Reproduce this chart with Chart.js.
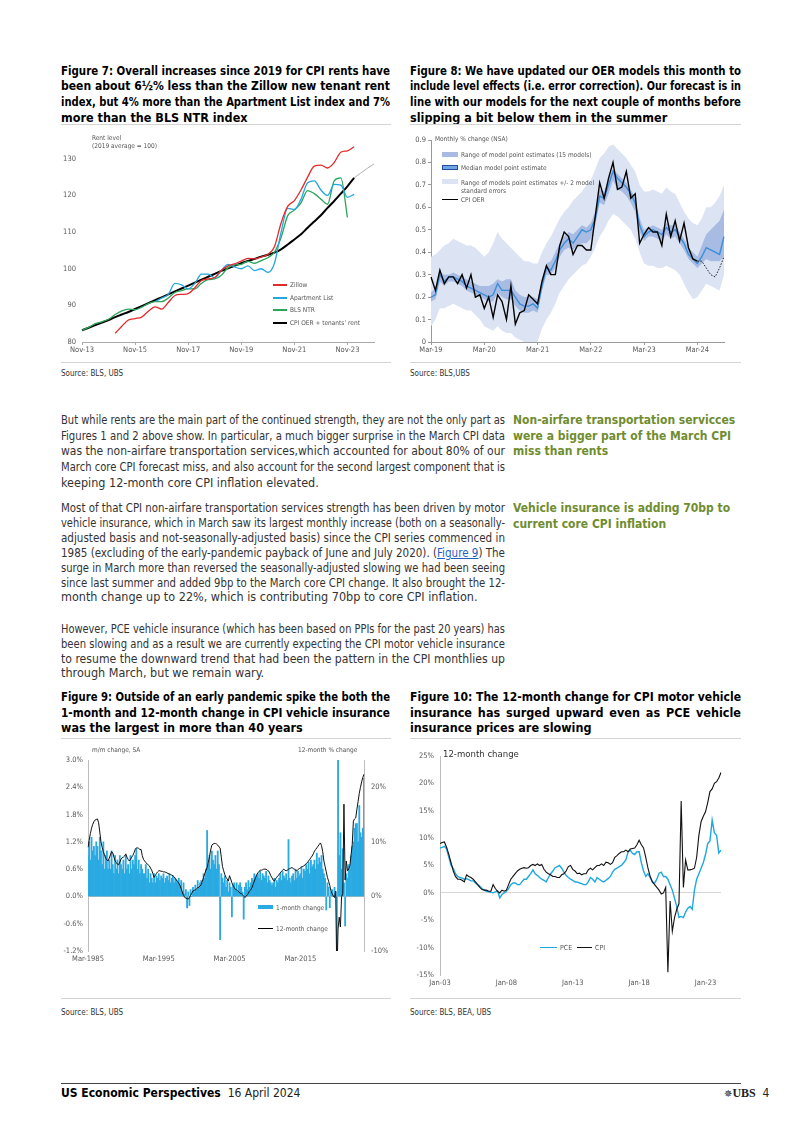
<!DOCTYPE html>
<html>
<head>
<meta charset="utf-8">
<title>US Economic Perspectives - page 4</title>
<script src="https://cdn.jsdelivr.net/npm/chart.js@4.4.1/dist/chart.umd.min.js"></script>
<style>
  html, body { margin: 0; padding: 0; background: #fff; }
  #page { position: relative; width: 802px; height: 1134px; overflow: hidden; color: #333;
          font-family: "Liberation Sans Narrow", "DejaVu Sans Condensed", "Roboto Condensed", Roboto, sans-serif; }
  .ln { position: absolute; height: 16px; line-height: 16px; font-size: 12.5px; white-space: nowrap; }
  .ln span { display: inline-block; transform-origin: 0 50%; }
  .ln.fit { white-space: normal; text-align: justify; text-align-last: justify; }
  .tt { font-weight: bold; color: #000; }
  .side { font-weight: bold; color: #6f8d2f; font-size: 12px; }
  .ln a { color: #1f5fbf; text-decoration: underline; }
  .rule { position: absolute; height: 1px; background: #d4d4d4; }
  .src { position: absolute; font-size: 8px; color: #333; line-height: 10px; }
  .lg { position: absolute; font-size: 6.5px; color: #555; white-space: nowrap; line-height: 8px; }
  .sw { position: absolute; }
  canvas { position: absolute; }
</style>
</head>
<body>
<div id="page">
  <canvas id="c7" width="330" height="228" style="left:61px;top:130px;"></canvas>
  <canvas id="c8" width="335" height="228" style="left:410px;top:130px;"></canvas>
  <canvas id="c9" width="330" height="222" style="left:61px;top:745px;"></canvas>
  <canvas id="c10" width="335" height="246" style="left:410px;top:745px;"></canvas>
</div>
<script>
//----- data -----

//figure 7: quarterly rent levels (2019 average = 100), Nov-13 onwards
var rentTicks = ['Nov-13', 'Nov-15', 'Nov-17', 'Nov-19', 'Nov-21', 'Nov-23'];
var zillow = [null, null, null, null, null,
  82.4, 84.3, 86.0, 86.4, 86.8, 88.4, 89.6, 89.0, 90.8, 92.7, 93.0, 93.2, 94.8, 96.8, 97.2,
  97.6, 99.6, 100.8, 101.3, 102.1, 102.8, 102.7, 103.2, 103.9, 106.0, 112.5, 117.0, 118.6,
  121.5, 125.0, 128.0, 128.3, 127.5, 129.0, 131.8, 132.2, 133.3, null, null, null];
var apartmentList = [null, null, null, null, null, null, null, null, null, null, null,
  91.0, 92.0, 93.0, 96.0, 95.6, 94.5, 96.0, 98.5, 98.5, 97.5, 99.5, 101.2, 100.5, 100.0,
  100.8, 99.5, 100.0, 99.0, 101.5, 110.0, 116.5, 116.2, 119.0, 123.5, 124.0, 121.5, 120.0,
  123.0, 122.8, 119.5, 120.3, null, null, null];
var blsNtr = [83.2, 84.0, 85.0, 85.5, 86.2, 87.5, 88.5, 89.0, 88.8, 89.5, 90.5, 91.0, 91.0,
  92.0, 93.5, 94.0, 94.5, 94.5, 96.0, 97.0, 97.2, 98.2, 100.3, 101.0, 101.2, 102.0, 101.5,
  102.2, 103.0, 104.5, 108.5, 114.5, 116.0, 118.0, 121.3, 120.5, 119.0, 117.6, 124.0, 124.8,
  114.0, null, null, null, null];
var cpiRent = [83.2, 83.9, 84.6, 85.3, 86.0, 86.8, 87.5, 88.2, 89.0, 89.8, 90.6, 91.4, 92.2,
  93.0, 93.8, 94.6, 95.4, 96.2, 97.0, 97.8, 98.6, 99.4, 100.1, 100.8, 101.5, 102.1, 102.7,
  103.3, 103.8, 104.4, 105.3, 106.6, 108.0, 109.4, 111.2, 112.9, 114.6, 116.6, 118.5, 120.5,
  122.5, 124.8, null, null, null];
var cpiRentPath = [null, null, null, null, null, null, null, null, null, null, null, null,
  null, null, null, null, null, null, null, null, null, null, null, null, null, null, null,
  null, null, null, null, null, null, null, null, null, null, null, null, null, null,
  124.8, 126.1, 127.4, 128.6];

//figure 8: monthly OER % change, Mar-19 to Sep-24
var oerTicks = ['Mar-19', 'Mar-20', 'Mar-21', 'Mar-22', 'Mar-23', 'Mar-24'];
var outerHigh = [0.38, 0.39, 0.41, 0.43, 0.44, 0.46, 0.45, 0.44, 0.43, 0.43, 0.42, 0.40,
  0.38, 0.40, 0.44, 0.49, 0.46, 0.44, 0.42, 0.40, 0.38, 0.36, 0.36, 0.35,
  0.35, 0.40, 0.44, 0.47, 0.51, 0.55, 0.58, 0.60, 0.63, 0.65, 0.67, 0.70,
  0.72, 0.77, 0.82, 0.84, 0.87, 0.88, 0.86, 0.84, 0.82, 0.79, 0.76, 0.70,
  0.67, 0.67, 0.68, 0.67, 0.66, 0.69, 0.67, 0.66, 0.62, 0.58, 0.55, 0.53,
  0.52, 0.55, 0.60, 0.60, 0.62, 0.65, 0.70];
var outerLow = [0.07, 0.10, 0.15, 0.15, 0.16, 0.17, 0.16, 0.15, 0.14, 0.14, 0.12, 0.10,
  0.07, 0.06, 0.05, 0.07, 0.05, 0.04, 0.04, 0.02, 0.01, 0.00, 0.00, 0.00,
  0.00, 0.06, 0.10, 0.13, 0.17, 0.22, 0.25, 0.28, 0.30, 0.32, 0.34, 0.35,
  0.38, 0.42, 0.47, 0.50, 0.54, 0.57, 0.56, 0.54, 0.52, 0.50, 0.46, 0.40,
  0.35, 0.34, 0.34, 0.33, 0.33, 0.34, 0.33, 0.32, 0.30, 0.26, 0.22, 0.19,
  0.20, 0.23, 0.26, 0.25, 0.24, 0.23, 0.30];
var innerHigh = [0.22, 0.24, 0.31, 0.30, 0.30, 0.31, 0.30, 0.29, 0.28, 0.27, 0.26, 0.25,
  0.25, 0.25, 0.26, 0.28, 0.27, 0.28, 0.28, 0.23, 0.21, 0.20, 0.20, 0.20,
  0.19, 0.28, 0.35, 0.36, 0.40, 0.44, 0.47, 0.49, 0.48, 0.50, 0.52, 0.51,
  0.53, 0.58, 0.68, 0.67, 0.73, 0.77, 0.75, 0.73, 0.71, 0.68, 0.64, 0.55,
  0.50, 0.51, 0.52, 0.51, 0.50, 0.53, 0.52, 0.52, 0.49, 0.46, 0.42, 0.40,
  0.38, 0.43, 0.48, 0.50, 0.52, 0.54, 0.59];
var innerLow = [0.18, 0.19, 0.27, 0.25, 0.27, 0.27, 0.26, 0.25, 0.23, 0.22, 0.21, 0.20,
  0.19, 0.18, 0.18, 0.22, 0.20, 0.19, 0.19, 0.16, 0.14, 0.13, 0.13, 0.14,
  0.13, 0.23, 0.30, 0.30, 0.33, 0.38, 0.41, 0.42, 0.41, 0.43, 0.44, 0.44,
  0.46, 0.52, 0.62, 0.61, 0.66, 0.72, 0.68, 0.67, 0.65, 0.62, 0.58, 0.49,
  0.45, 0.47, 0.47, 0.46, 0.45, 0.48, 0.46, 0.47, 0.44, 0.41, 0.37, 0.35,
  0.33, 0.35, 0.37, 0.36, 0.36, 0.36, 0.38];
var medianModel = [0.20, 0.21, 0.30, 0.27, 0.29, 0.29, 0.28, 0.27, 0.25, 0.24, 0.23, 0.22,
  0.21, 0.20, 0.21, 0.26, 0.23, 0.23, 0.23, 0.20, 0.17, 0.16, 0.16, 0.17,
  0.15, 0.25, 0.33, 0.32, 0.36, 0.41, 0.44, 0.46, 0.44, 0.47, 0.50, 0.49,
  0.50, 0.55, 0.65, 0.64, 0.70, 0.76, 0.73, 0.71, 0.69, 0.66, 0.62, 0.52,
  0.47, 0.49, 0.50, 0.49, 0.48, 0.51, 0.49, 0.50, 0.47, 0.44, 0.39, 0.37,
  0.35, 0.38, 0.42, 0.41, 0.40, 0.39, 0.47];
var cpiOer = [0.29, 0.23, 0.32, 0.26, 0.29, 0.29, 0.26, 0.30, 0.24, 0.30, 0.20, 0.21,
  0.15, 0.20, 0.11, 0.21, 0.18, 0.10, 0.25, 0.08, 0.13, 0.14, 0.21, 0.19,
  0.17, 0.27, 0.34, 0.30, 0.30, 0.43, 0.49, 0.47, 0.39, 0.43, 0.43, 0.41,
  0.41, 0.56, 0.71, 0.64, 0.73, 0.80, 0.68, 0.69, 0.76, 0.64, 0.66, 0.44,
  0.48, 0.51, 0.49, 0.49, 0.43, 0.57, 0.47, 0.54, 0.45, 0.53, 0.42, 0.37,
  0.36, null, null, null, null, null, null];
var oerForecast = [null, null, null, null, null, null, null, null, null, null, null, null,
  null, null, null, null, null, null, null, null, null, null, null, null,
  null, null, null, null, null, null, null, null, null, null, null, null,
  null, null, null, null, null, null, null, null, null, null, null, null,
  null, null, null, null, null, null, null, null, null, null, null, null,
  0.36, 0.36, 0.33, 0.30, 0.29, 0.33, 0.38];

//figure 9: CPI vehicle insurance, every other month from Mar-1985 (rows run Mar..Jan)
var insTicks = ['Mar-1985', 'Mar-1995', 'Mar-2005', 'Mar-2015'];
var insMonthly = [
  0.9, 1.2, 0.8, 1.3, 1.0, 1.1,   //1985
  0.9, 1.2, 1.1, 0.8, 1.3, 1.0,   //1986
  0.7, 1.2, 0.6, 0.9, 1.0, 0.6,   //1987
  0.8, 0.6, 1.0, 0.7, 0.5, 0.9,   //1988
  0.6, 0.8, 0.5, 0.9, 0.7, 0.6,   //1989
  0.8, 0.5, 0.9, 0.6, 0.7, 0.5,   //1990
  0.9, 0.6, 0.8, 0.7, 0.9, 1.05,  //1991
  0.6, 0.8, 0.5, 0.7, 0.6, 0.5,   //1992
  0.5, 0.7, 0.4, 0.6, 0.3, 0.5,   //1993
  0.4, 0.3, 0.5, 0.3, 0.45, 0.4,  //1994
  0.5, 0.35, 0.45, 0.4, 0.5, 0.3, //1995
  0.4, 0.45, 0.35, 0.5, 0.3, 0.4, //1996
  0.45, 0.3, 0.4, 0.35, 0.3, 0.4, //1997
  0.25, 0.35, 0.1, 0.3, 0.05, 0.15, //1998
  -0.25, 0.1, -0.2, 0.15, 0.0, 0.2, //1999
  0.1, 0.25, 0.15, 0.35, 0.2, 0.3,  //2000
  0.35, 0.3, 0.5, 0.4, 0.6, 1.45,   //2001
  0.7, 0.9, 0.6, 1.0, 0.8, 0.7,     //2002
  0.9, 0.6, 1.0, 0.7, -0.95, 0.5,   //2003
  0.4, 0.3, 0.45, 0.2, 0.35, 0.1,   //2004
  0.3, 0.2, -0.45, 0.25, 0.3, 0.15, //2005
  0.3, 0.1, 0.25, 0.3, 0.2, 0.1,    //2006
  -0.5, 0.2, 0.3, 0.15, 0.35, 0.2,  //2007
  0.3, 0.4, 0.35, 0.5, 0.4, 0.45,   //2008
  0.5, 0.4, 0.55, 0.35, 0.5, 0.45,  //2009
  0.4, 0.55, 0.3, 0.45, 0.35, 0.3,  //2010
  0.25, 0.3, 0.4, 0.2, 0.35, 0.3,   //2011
  0.4, 0.5, 0.35, 0.55, 0.45, 0.4,  //2012
  0.5, 0.35, 1.25, 0.4, 0.3, 0.45,  //2013
  0.5, 0.35, 0.6, 0.4, 0.55, 0.45,  //2014
  0.5, 0.65, 0.4, 0.6, 0.55, 0.7,   //2015
  0.6, 0.75, 0.5, 0.8, 0.65, 0.7,   //2016
  0.8, 0.6, 0.95, 0.7, 0.85, 0.75,  //2017
  0.9, 0.6, 0.5, 0.4, -0.3, 0.3,    //2018
  0.2, -0.25, 0.1, 0.15, 0.0, 0.2,  //2019
  0.1, -1.25, 3.1, 0.9, 1.4, 0.6,   //2020
  1.05, 0.3, -0.65, 0.5, 0.4, 0.7,  //2021
  0.6, 0.9, 1.1, 1.2, 1.5, 1.6,     //2022
  1.6, 1.2, 2.0, 1.4, 1.3, 1.5,     //2023
  2.6                               //Mar-2024
];
var insYearly = [
  9.0, 10.3, 11.5, 12.5, 13.2, 13.7,  //1985
  14.0, 14.1, 14.2, 13.5, 11.8, 10.0, //1986
  9.0, 8.2, 7.6, 7.0, 6.7, 6.5,       //1987
  7.0, 7.6, 8.2, 8.0, 7.2, 6.5,       //1988
  6.2, 5.9, 5.8, 6.3, 6.8, 7.1,       //1989
  7.2, 7.4, 7.8, 7.2, 6.8, 6.5,       //1990
  6.8, 7.2, 7.5, 8.0, 8.6, 8.9,       //1991
  8.9, 8.8, 8.6, 8.6, 7.5, 6.8,       //1992
  6.5, 6.2, 6.0, 5.8, 5.6, 5.2,       //1993
  4.8, 4.2, 3.5, 3.8, 4.2, 4.5,       //1994
  4.7, 4.7, 4.6, 4.6, 4.5, 4.5,       //1995
  4.4, 4.3, 4.2, 4.1, 4.0, 3.9,       //1996
  3.8, 3.6, 3.3, 3.0, 2.7, 2.4,       //1997
  2.0, 1.4, 0.8, 0.2, -0.2, -0.3,     //1998
  -0.4, -0.5, -0.2, 0.2, 0.6, 1.0,    //1999
  1.1, 1.2, 1.4, 1.6, 1.7, 1.9,       //2000
  2.2, 2.8, 3.5, 4.2, 4.8, 5.3,       //2001
  6.2, 7.3, 8.5, 9.4, 9.6, 9.7,       //2002
  9.7, 9.6, 9.4, 9.1, 8.9, 7.2,       //2003
  5.5, 4.7, 4.0, 3.5, 3.2, 2.8,       //2004
  3.8, 3.2, 2.5, 2.0, 1.6, 1.3,       //2005
  1.2, 1.0, 0.8, 0.6, 0.5, 0.3,       //2006
  0.1, -0.2, 0.0, 0.3, 0.6, 1.0,      //2007
  1.2, 1.6, 2.2, 2.8, 3.4, 4.0,       //2008
  4.3, 4.6, 4.8, 4.8, 4.9, 5.0,       //2009
  5.0, 5.0, 4.8, 4.7, 4.3, 3.8,       //2010
  3.4, 3.0, 2.8, 3.2, 3.5, 3.8,       //2011
  4.0, 4.3, 4.6, 4.8, 5.0, 4.8,       //2012
  4.7, 4.8, 5.0, 5.1, 5.2, 5.3,       //2013
  5.1, 5.0, 4.8, 4.7, 4.9, 5.1,       //2014
  5.2, 5.4, 5.5, 5.6, 5.8, 6.0,       //2015
  6.2, 6.5, 6.8, 7.1, 7.4, 7.8,       //2016
  8.3, 8.6, 8.9, 9.2, 9.5, 9.8,       //2017
  9.3, 8.2, 6.5, 5.5, 4.5, 3.5,       //2018
  2.8, 2.0, 1.0, 0.5, 0.1, -0.2,      //2019
  1.0, -14.5, -6.0, -3.8, -5.6, 0.0,  //2020
  0.5, 16.9, 3.0, 6.5, 4.7, 5.0,      //2021
  5.6, 7.5, 9.5, 13.8, 14.2, 14.4,    //2022
  16.0, 17.4, 18.9, 20.0, 21.0, 21.8, //2023
  22.4                                //Mar-2024
];

//figure 10: 12-month change, every other month from Jan-03 (rows run Jan..Nov)
var pceTicks = ['Jan-03', 'Jan-08', 'Jan-13', 'Jan-18', 'Jan-23'];
var pceIns = [
  8.2, 8.3, 8.5, 8.0, 6.5, 5.0,   //2003
  4.5, 3.5, 3.0, 2.8, 2.7, 2.5,   //2004
  2.6, 2.4, 2.2, 2.2, 1.8, 1.5,   //2005
  1.2, 0.8, 0.5, 0.3, 0.2, 0.1,   //2006
  0.0, 0.2, 0.4, -0.9, -0.3, 0.0, //2007
  0.3, 0.8, 1.5, 1.8, 1.8, 1.5,   //2008
  1.5, 2.0, 2.5, 2.5, 3.0, 3.5,   //2009
  4.2, 3.5, 3.2, 2.8, 2.5, 2.3,   //2010
  2.0, 2.8, 3.5, 4.0, 4.6, 4.8,   //2011
  5.0, 4.5, 3.8, 3.2, 2.8, 2.5,   //2012
  2.3, 2.0, 2.0, 1.8, 1.7, 1.5,   //2013
  1.5, 2.0, 2.8, 2.5, 2.0, 2.8,   //2014
  2.5, 2.2, 2.0, 2.3, 2.6, 3.0,   //2015
  3.8, 4.3, 4.5, 4.8, 5.0, 5.5,   //2016
  6.0, 7.5, 7.8, 7.2, 7.0, 7.5,   //2017
  7.5, 5.5, 4.0, 3.0, 3.5, 2.8,   //2018
  2.0, 1.8, 2.5, 3.6, 3.8, 3.0,   //2019
  3.0, 2.5, 1.5, 0.5, -1.0, -2.5, //2020
  -4.5, -4.3, -4.5, -3.5, -2.8, -2.5, //2021
  -3.0, 0.5, 2.5, 3.5, 4.5, 5.5,  //2022
  7.0, 9.0, 9.5, 13.3, 11.0, 10.5, //2023
  7.3, 7.8                        //2024
];
var cpiIns = [
  9.0, 9.2, 9.3, 8.3, 7.0, 5.5,   //2003
  4.0, 3.0, 2.5, 2.5, 2.3, 2.0,   //2004
  3.3, 3.0, 2.8, 2.5, 2.0, 1.5,   //2005
  1.0, 0.6, 0.5, 0.5, 0.3, 0.3,   //2006
  1.5, 0.8, 0.3, 0.0, 0.5, 0.3,   //2007
  0.5, 1.5, 2.5, 3.0, 3.5, 4.0,   //2008
  4.3, 4.5, 4.6, 4.5, 4.6, 5.0,   //2009
  5.2, 5.0, 5.3, 5.0, 5.2, 4.3,   //2010
  3.8, 3.5, 3.3, 3.0, 3.0, 2.8,   //2011
  2.8, 3.3, 3.5, 4.0, 4.8, 5.0,   //2012
  4.3, 4.0, 3.5, 3.6, 3.3, 3.5,   //2013
  3.5, 4.2, 4.5, 4.2, 4.6, 5.0,   //2014
  5.0, 5.3, 5.0, 5.6, 5.5, 5.2,   //2015
  5.5, 6.5, 6.8, 7.2, 7.5, 7.5,   //2016
  7.8, 7.5, 8.0, 8.1, 8.2, 8.8,   //2017
  9.6, 8.8, 8.2, 6.5, 4.5, 3.0,   //2018
  2.0, 1.5, 1.0, 0.5, -0.2, 0.0,  //2019
  1.0, -14.5, -1.5, -7.0, -4.5, -3.0, //2020
  -2.0, 16.8, 1.0, 6.0, 4.2, 4.2, //2021
  4.3, 4.5, 6.5, 10.5, 13.0, 14.0, //2022
  14.8, 16.5, 18.5, 19.0, 20.0, 20.3, //2023
  21.0, 22.0                      //2024
];

//----- text -----
var fig7Title = [
  'Figure 7: Overall increases since 2019 for CPI rents have',
  'been about 6\u00bd% less than the Zillow new tenant rent',
  'index, but 4% more than the Apartment List index and 7%',
  'more than the BLS NTR index'];
var fig8Title = [
  'Figure 8: We have updated our OER models this month to',
  'include level effects (i.e. error correction). Our forecast is in',
  'line with our models for the next couple of months before',
  'slipping a bit below them in the summer'];
var fig9Title = [
  'Figure 9: Outside of an early pandemic spike the both the',
  '1-month and 12-month change in CPI vehicle insurance',
  'was the largest in more than 40 years'];
var fig10Title = [
  'Figure 10: The 12-month change for CPI motor vehicle',
  'insurance has surged upward even as PCE vehicle',
  'insurance prices are slowing'];
var para1 = [
  'But while rents are the main part of the continued strength, they are not the only part as',
  'Figures 1 and 2 above show. In particular, a much bigger surprise in the March CPI data',
  'was the non-airfare transportation services,which accounted for about 80% of our',
  'March core CPI forecast miss, and also account for the second largest component that is',
  'keeping 12-month core CPI inflation elevated.'];
var para2 = [
  'Most of that CPI non-airfare transportation services strength has been driven by motor',
  'vehicle insurance, which in March saw its largest monthly increase (both on a seasonally-',
  'adjusted basis and not-seasonally-adjusted basis) since the CPI series commenced in',
  '1985 (excluding of the early-pandemic payback of June and July 2020). (<a>Figure 9</a>) The',
  'surge in March more than reversed the seasonally-adjusted slowing we had been seeing',
  'since last summer and added 9bp to the March core CPI change. It also brought the 12-',
  'month change up to 22%, which is contributing 70bp to core CPI inflation.'];
var para3 = [
  'However, PCE vehicle insurance (which has been based on PPIs for the past 20 years) has',
  'been slowing and as a result we are currently expecting the CPI motor vehicle insurance',
  'to resume the downward trend that had been the pattern in the CPI monthlies up',
  'through March, but we remain wary.'];
var side1 = ['Non-airfare transportation servicces', 'were a bigger part of the March CPI', 'miss than rents'];
var side2 = ['Vehicle insurance is adding 70bp to', 'current core CPI inflation'];

//----- helpers -----
var page = document.getElementById('page');
var FONT = '"Liberation Sans Narrow", "DejaVu Sans Condensed", "Roboto Condensed", Roboto, sans-serif';
var MONTHS = ['Jan', 'Feb', 'Mar', 'Apr', 'May', 'Jun', 'Jul', 'Aug', 'Sep', 'Oct', 'Nov', 'Dec'];

//builds month labels like Nov-13 or Mar-1985
function monthLabels(year, month, count, step, fullYear) {
    var out = [];
    for (var i = 0; i < count; i++) {
        var m = month + i * step;
        var y = year + Math.floor(m / 12);
        var yy = fullYear ? String(y) : String(y % 100).padStart(2, '0');
        out.push(MONTHS[m % 12] + '-' + yy);
    }
    return out;
}

//adds lines of text, yc is the centre of the first line
function addLines(lines, x, yc, w, lh, cls, justify) {
    for (var i = 0; i < lines.length; i++) {
        var d = document.createElement('div');
        d.className = 'ln ' + cls;
        d.style.left = x + 'px';
        d.style.top = (yc + i * lh - 8).toFixed(1) + 'px';
        d.style.width = w + 'px';
        d.innerHTML = '<span>' + lines[i] + '</span>';
        d.dataset.just = (justify && i < lines.length - 1) ? '1' : '0';
        page.appendChild(d);
    }
}

//justify lines that fit, squeeze the ones that do not
function fitLines() {
    document.querySelectorAll('.ln').forEach(function(d) {
        var s = d.firstChild;
        var w = parseFloat(d.style.width);
        var nat = s.getBoundingClientRect().width;
        if (nat > w) {
            s.style.transform = 'scaleX(' + (w / nat).toFixed(4) + ')';
        } else if (d.dataset.just === '1') {
            s.style.display = 'inline';
            d.classList.add('fit');
        }
    });
}

function box(x, y, w, h, css) {
    var d = document.createElement('div');
    d.className = 'sw';
    d.style.cssText = 'left:' + x + 'px;top:' + y + 'px;width:' + w + 'px;height:' + h + 'px;' + (css || '');
    page.appendChild(d);
}

function text(x, yc, html, cls, css) {
    var d = document.createElement('div');
    d.className = cls;
    d.style.left = x + 'px';
    d.style.top = (yc - 4) + 'px';
    if (css) d.style.cssText += css;
    d.innerHTML = html;
    page.appendChild(d);
}

function rule(x, y, w, color) {
    box(x, y, w, 1, 'background:' + (color || '#d4d4d4'));
}

//keeps only the category ticks that are in the list
function onlyTicks(list) {
    return function(scale) {
        scale.ticks = scale.ticks.filter(function(t) {
            return list.indexOf(scale.getLabelForValue(t.value)) >= 0;
        });
    };
}

function everyTick(step) {
    return function(scale) {
        scale.ticks = scale.ticks.filter(function(t) {
            return Math.abs(t.value / step - Math.round(t.value / step)) < 1e-6;
        });
    };
}

function fixW(w) { return function(s) { s.width = w; }; }
function fixH(h) { return function(s) { s.height = h; }; }

//----- page text -----
addLines(fig7Title, 61, 70.7, 329, 15.7, 'tt', true);
addLines(fig8Title, 410, 70.7, 331, 15.7, 'tt', true);
addLines(para1, 61, 420, 444, 15.7, '', true);
addLines(side1, 513, 420, 240, 15.7, 'side', false);
addLines(para2, 61, 508.3, 444, 14.83, '', true);
addLines(side2, 513, 508.3, 240, 15.2, 'side', false);
addLines(para3, 61, 629.3, 444, 14.7, '', true);
addLines(fig9Title, 61, 697, 329, 15.7, 'tt', true);
addLines(fig10Title, 410, 697, 331, 15.7, 'tt', true);

rule(61, 124, 330); rule(410, 124, 331);
rule(61, 362, 330); rule(410, 362, 331);
rule(61, 738, 330); rule(410, 738, 331);
rule(61, 998, 330); rule(410, 998, 331);

text(61, 373, 'Source: BLS, UBS', 'src');
text(410, 373, 'Source: BLS,UBS', 'src');
text(61, 1012, 'Source: BLS, UBS', 'src');
text(410, 1012, 'Source: BLS, BEA, UBS', 'src');

//footer
rule(61, 1083, 680, '#444');
text(61, 1089, '<b style="color:#000">US Economic Perspectives</b>&nbsp;&nbsp;16 April 2024', 'src',
     'font-size:12px;line-height:14px;color:#222;top:1086px;');
text(724, 1089, '<span style="font-family:\'DejaVu Sans\';font-size:10px">\u2735</span><b style="font-family:\'Liberation Serif\',serif;font-size:12px">UBS</b>&nbsp;&nbsp;4',
     'src', 'font-size:12px;line-height:14px;color:#222;top:1086px;');

//----- chart legends and notes -----
text(92, 139, 'Rent level<br>(2019 average = 100)', 'lg', 'line-height:7.5px;top:135px;');
var lg7 = [['#e32b2b', 'Zillow', 284], ['#23a7e1', 'Apartment List', 297], ['#2aa55a', 'BLS NTR', 309], ['#000', 'CPI OER + tenants\u2019 rent', 322]];
lg7.forEach(function(e) {
    box(273, e[2], 14, 1.6, 'background:' + e[0]);
    text(290, e[2] + 0.5, e[1], 'lg');
});

text(435, 139, 'Monthly % change (NSA)', 'lg');
box(442, 152, 16, 5, 'background:#a7bbe3');
text(461, 154.5, 'Range of model point estimates (15 models)', 'lg');
box(442, 165, 14, 3, 'background:#6fa6e3;border:1.2px solid #1f4f9c');
text(461, 168, 'Median model point estimate', 'lg');
box(442, 179, 16, 5, 'background:#dce4f4');
text(461, 183, 'Range of models point estimates +/- 2 model<br>standard errors', 'lg');
box(442, 198.5, 16, 1.6, 'background:#000');
text(461, 199.5, 'CPI OER', 'lg');

text(92, 750, 'm/m change, SA', 'lg');
text(298, 750, '12-month % change', 'lg');
box(258, 905, 15, 4, 'background:#2aaae2');
text(276, 907.5, '1-month change', 'lg');
box(258, 928, 15, 1.2, 'background:#000');
text(276, 928.5, '12-month change', 'lg');

text(443, 754, '12-month change', 'lg', 'font-size:9.5px;color:#333;top:749px;line-height:10px;');
box(540, 946.5, 17, 1.6, 'background:#1ea8e2');
text(560, 947.5, 'PCE', 'lg', 'font-size:7px;');
box(577, 946.5, 15, 1.2, 'background:#111');
text(595, 947.5, 'CPI', 'lg', 'font-size:7px;');

fitLines();

//----- charts -----
Chart.defaults.font.family = FONT;
Chart.defaults.color = '#595959';
var TICKFONT = { size: 7.5 };
var noPlugins = { legend: { display: false }, tooltip: { enabled: false } };

//figure 7
new Chart(document.getElementById('c7'), {
    type: 'line',
    data: {
        labels: monthLabels(2013, 10, 45, 3),
        datasets: [
            { data: zillow, borderColor: '#e32b2b', borderWidth: 1.3 },
            { data: apartmentList, borderColor: '#23a7e1', borderWidth: 1.3 },
            { data: blsNtr, borderColor: '#2aa55a', borderWidth: 1.3 },
            { data: cpiRentPath, borderColor: '#9a9a9a', borderWidth: 0.8 },
            { data: cpiRent, borderColor: '#000', borderWidth: 2 }
        ]
    },
    options: {
        responsive: false,
        animation: false,
        layout: { padding: { top: 10, right: 17, left: 0, bottom: 0 } },
        elements: { point: { radius: 0 }, line: { tension: 0.4, cubicInterpolationMode: 'monotone' } },
        plugins: noPlugins,
        scales: {
            x: {
                offset: false,
                grid: { drawOnChartArea: false, tickLength: 3, color: '#aaa' },
                border: { color: '#aaa' },
                ticks: { autoSkip: false, maxRotation: 0, font: TICKFONT, padding: 1 },
                afterBuildTicks: onlyTicks(rentTicks),
                afterFit: fixH(16)
            },
            y: {
                min: 80, max: 135,
                grid: { display: false, drawTicks: false, tickLength: 0 },
                border: { display: false },
                ticks: { stepSize: 10, font: TICKFONT, padding: 6 },
                afterBuildTicks: everyTick(10),
                afterFit: fixW(21)
            }
        }
    }
});

//figure 8
new Chart(document.getElementById('c8'), {
    type: 'line',
    data: {
        labels: monthLabels(2019, 2, 67, 1),
        datasets: [
            { data: outerHigh, fill: '+1', backgroundColor: '#dce4f4', borderWidth: 0, order: 10 },
            { data: outerLow, fill: false, borderWidth: 0, order: 10 },
            { data: innerHigh, fill: '+1', backgroundColor: '#a7bbe3', borderWidth: 0, order: 5 },
            { data: innerLow, fill: false, borderWidth: 0, order: 5 },
            { data: medianModel, borderColor: '#3b8fd8', borderWidth: 1.4, order: 2 },
            { data: oerForecast, borderColor: '#222', borderWidth: 1, borderDash: [1.5, 1.5], order: 1 },
            { data: cpiOer, borderColor: '#000', borderWidth: 1.4, order: 1 }
        ]
    },
    options: {
        responsive: false,
        animation: false,
        layout: { padding: { top: 10, right: 21, left: 0, bottom: 0 } },
        elements: { point: { radius: 0 }, line: { tension: 0 } },
        plugins: noPlugins,
        scales: {
            x: {
                offset: false,
                grid: { drawOnChartArea: false, tickLength: 3, color: '#999' },
                border: { color: '#999' },
                ticks: { autoSkip: false, maxRotation: 0, font: TICKFONT, padding: 1 },
                afterBuildTicks: onlyTicks(oerTicks),
                afterFit: fixH(16)
            },
            y: {
                min: 0, max: 0.9,
                grid: { drawOnChartArea: false, tickLength: 3, color: '#999' },
                border: { color: '#999' },
                ticks: {
                    stepSize: 0.1, font: TICKFONT, padding: 2,
                    callback: function(v) { return Math.abs(v) < 1e-9 ? '0' : v.toFixed(1); }
                },
                afterFit: fixW(21)
            }
        }
    }
});

//figure 9
new Chart(document.getElementById('c9'), {
    type: 'bar',
    data: {
        labels: monthLabels(1985, 2, 235, 2, true),
        datasets: [
            { type: 'line', data: insYearly, yAxisID: 'y2', borderColor: '#111', borderWidth: 1,
              pointRadius: 0, tension: 0, order: 1 },
            { data: insMonthly, yAxisID: 'y', backgroundColor: '#2aaae2', borderWidth: 0,
              barPercentage: 1, categoryPercentage: 1, order: 2 }
        ]
    },
    options: {
        responsive: false,
        animation: false,
        layout: { padding: { top: 15, right: 0, left: 0, bottom: 0 } },
        plugins: noPlugins,
        scales: {
            x: {
                offset: false,
                grid: { display: false, drawTicks: false, tickLength: 0 },
                border: { display: false },
                ticks: { autoSkip: false, maxRotation: 0, font: TICKFONT, padding: 4 },
                afterBuildTicks: onlyTicks(insTicks),
                afterFit: fixH(16)
            },
            y: {
                min: -1.2, max: 3.0,
                grid: {
                    drawTicks: false,
                    color: function(c) { return Math.abs(c.tick.value) < 1e-9 ? '#bdbdbd' : 'rgba(0,0,0,0)'; }
                },
                border: { color: '#bdbdbd' },
                ticks: {
                    stepSize: 0.6, font: TICKFONT, padding: 5,
                    callback: function(v) { return (Math.abs(v) < 1e-9 ? 0 : v).toFixed(1) + '%'; }
                },
                afterFit: fixW(27)
            },
            y2: {
                position: 'right',
                min: -10, max: 25,
                grid: { display: false, drawTicks: false, tickLength: 0 },
                border: { color: '#bdbdbd' },
                ticks: { stepSize: 10, font: TICKFONT, padding: 7,
                         callback: function(v) { return v + '%'; } },
                afterBuildTicks: everyTick(10),
                afterFit: fixW(27)
            }
        }
    }
});

//figure 10
new Chart(document.getElementById('c10'), {
    type: 'line',
    data: {
        labels: monthLabels(2003, 0, 128, 2),
        datasets: [
            { data: cpiIns, borderColor: '#111', borderWidth: 1.1 },
            { data: pceIns, borderColor: '#1ea8e2', borderWidth: 1.4 }
        ]
    },
    options: {
        responsive: false,
        animation: false,
        layout: { padding: { top: 11, right: 24, left: 0, bottom: 0 } },
        elements: { point: { radius: 0 }, line: { tension: 0 } },
        plugins: noPlugins,
        scales: {
            x: {
                offset: false,
                grid: { display: false, drawTicks: false, tickLength: 0 },
                border: { display: false },
                ticks: { autoSkip: false, maxRotation: 0, font: TICKFONT, padding: 4 },
                afterBuildTicks: onlyTicks(pceTicks),
                afterFit: fixH(16)
            },
            y: {
                min: -15, max: 25,
                grid: {
                    drawTicks: false,
                    color: function(c) { return c.tick.value === 0 ? '#d6d6d6' : 'rgba(0,0,0,0)'; }
                },
                border: { color: '#bdbdbd' },
                ticks: { stepSize: 5, font: TICKFONT, padding: 6,
                         callback: function(v) { return v + '%'; } },
                afterFit: fixW(30)
            }
        }
    }
});
</script>
</body>
</html>
